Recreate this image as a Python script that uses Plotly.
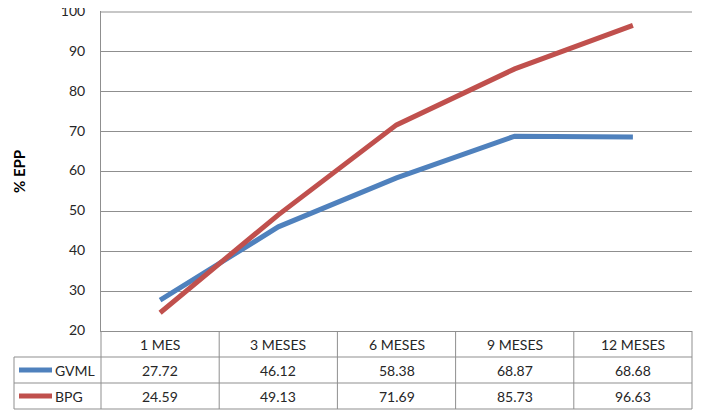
import plotly.graph_objects as go

categories = ["1 MES", "3 MESES", "6 MESES", "9 MESES", "12 MESES"]
series_names = ["GVML", "BPG"]
gvml = [27.72, 46.12, 58.38, 68.87, 68.68]
bpg = [24.59, 49.13, 71.69, 85.73, 96.63]
colors = ["#4F81BD", "#C0504D"]
y_ticks = [20, 30, 40, 50, 60, 70, 80, 90, 100]

# page has an 8px body margin; work in page pixels and subtract it
OFF = 8
PL, PR, PT, PB = 101, 692, 11, 331          # plot area in page pixels
Y0, Y1 = 20, 100.25                          # value range (100 sits 1px inside the top)
W, H = 705 - OFF, 412 - OFF
L, R, T, B = PL - OFF, PR - OFF, PT - OFF, PB - OFF
pw, ph = R - L, B - T
grid = "#8f8f8f"
txt = "#262626"
FONT = "Lato"

def px(x):
    return (x - PL) / pw

def py(y):
    return (PB - y) / ph

fig = go.Figure()
xs = list(range(len(categories)))
for name, vals, c in zip(series_names, [gvml, bpg], colors):
    fig.add_trace(go.Scatter(x=xs, y=vals, mode="lines", name=name,
                             line=dict(color=c, width=5), showlegend=False))

shapes = []
def line(x0, y0, x1, y1, color=grid, width=1):
    shapes.append(dict(type="line", xref="paper", yref="paper",
                       x0=px(x0), y0=py(y0), x1=px(x1), y1=py(y1),
                       line=dict(color=color, width=width), layer="above"))

# top gridline (100) drawn in data coordinates so it is always visible
shapes.append(dict(type="line", xref="paper", yref="y", x0=0, x1=1,
                   y0=y_ticks[-1], y1=y_ticks[-1], line=dict(color=grid, width=1),
                   layer="above"))

row_h = 26
r1, r2, r3 = PB + row_h, PB + 2 * row_h, PB + 3 * row_h
tl = 14
for yy in (r1, r2, r3):
    line(tl, yy, PR, yy)
line(tl, r1, tl, r3)
line(PL, PB, PL, r3)
n = len(categories)
for i in range(1, n + 1):
    xx = PL + (PR - PL) * i / n
    line(xx, PB, xx, r3)

def ann(x, y, text, xanchor="center", **kw):
    d = dict(x=px(x), y=py(y), xref="paper", yref="paper", xanchor=xanchor, yanchor="middle",
             text=text, showarrow=False, font=dict(size=14, color=txt, family=FONT))
    d.update(kw)
    return d

annotations = []
for i, cat in enumerate(categories):
    cx = PL + (PR - PL) * (i + 0.5) / n
    annotations.append(ann(cx, PB + row_h / 2, cat))
    for j, vals in enumerate([gvml, bpg]):
        annotations.append(ann(cx, PB + row_h * (j + 1.5), f"{vals[i]:.2f}"))

for j, (name, c) in enumerate(zip(series_names, colors)):
    yc = PB + row_h * (j + 1.5)
    line(19, yc, 52, yc, color=c, width=5)
    annotations.append(ann(53, yc, name, xanchor="left"))

annotations.append(ann(19, 172, "<b>% EPP</b>", textangle=-90,
                       font=dict(size=15, color="#000000", family=FONT)))

fig.update_layout(
    width=W, height=H,
    margin=dict(l=L, r=W - R, t=T, b=H - B, pad=0, autoexpand=False),
    paper_bgcolor="white", plot_bgcolor="white",
    font=dict(family=FONT, color=txt, size=14),
    shapes=shapes, annotations=annotations,
    xaxis=dict(range=[-0.5, n - 0.5], showticklabels=False, showgrid=False, automargin=False,
               zeroline=False, showline=True, linecolor=grid, linewidth=1, fixedrange=True),
    yaxis=dict(range=[Y0, Y1], tickvals=y_ticks, showgrid=True, gridcolor=grid, gridwidth=1,
               zeroline=False, showline=True, linecolor=grid, linewidth=1, automargin=False,
               mirror=False, ticklabeloverflow="allow", ticklabelshift=-1,
               ticks="", ticklabelstandoff=12, tickfont=dict(size=14, color=txt, family=FONT)),
)

fig.write_html("out.html", config={"displayModeBar": False})
